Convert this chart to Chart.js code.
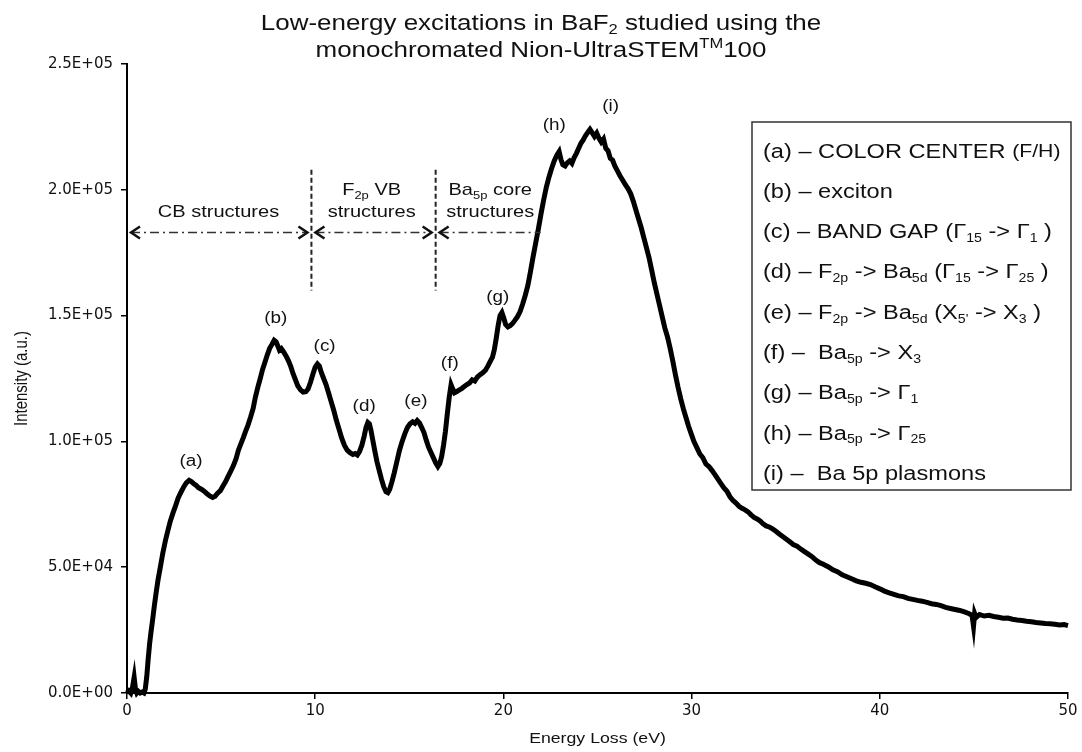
<!DOCTYPE html>
<html>
<head>
<meta charset="utf-8">
<title>BaF2 low-loss EELS</title>
<script src="https://cdn.jsdelivr.net/npm/chart.js"></script>
<style>
  html, body { margin: 0; padding: 0; background: #fff; }
  #spectrum { display: block; }
</style>
</head>
<body>
<canvas id="spectrum" width="1082" height="752"></canvas>
<script>
// measured spectrum: energy loss (eV) and intensity (a.u.)
const energy = [
  0.00, 0.10, 0.20, 0.30, 0.38, 0.45, 0.52, 0.60, 0.70, 0.80, 0.90, 0.97,
  1.05, 1.12, 1.20, 1.28, 1.36, 1.45, 1.55, 1.65, 1.77, 1.90, 2.04, 2.17,
  2.30, 2.44, 2.57, 2.72, 2.88, 3.02, 3.15, 3.30, 3.42, 3.55, 3.68, 3.80,
  3.95, 4.10, 4.25, 4.40, 4.55, 4.68, 4.80, 4.96, 5.10, 5.24, 5.38, 5.52,
  5.66, 5.80, 5.92, 6.05, 6.18, 6.30, 6.43, 6.56, 6.70, 6.82, 6.95, 7.08,
  7.20, 7.33, 7.46, 7.58, 7.70, 7.82, 7.92, 8.02, 8.10, 8.20, 8.32, 8.45,
  8.58, 8.70, 8.82, 8.95, 9.08, 9.22, 9.36, 9.50, 9.62, 9.75, 9.88, 10.00,
  10.12, 10.22, 10.32, 10.45, 10.58, 10.70, 10.84, 10.98, 11.12, 11.26, 11.40, 11.55,
  11.70, 11.85, 12.00, 12.12, 12.24, 12.36, 12.48, 12.60, 12.70, 12.80, 12.88, 12.96,
  13.06, 13.16, 13.28, 13.40, 13.52, 13.64, 13.76, 13.86, 13.96, 14.08, 14.20, 14.34,
  14.48, 14.62, 14.76, 14.90, 15.04, 15.18, 15.30, 15.42, 15.54, 15.66, 15.78, 15.90,
  16.02, 16.14, 16.28, 16.40, 16.52, 16.62, 16.72, 16.82, 16.92, 17.02, 17.12, 17.22,
  17.30, 17.40, 17.52, 17.64, 17.78, 17.92, 18.06, 18.20, 18.34, 18.48, 18.62, 18.76,
  18.90, 19.04, 19.18, 19.30, 19.42, 19.52, 19.62, 19.72, 19.82, 19.92, 20.02, 20.12,
  20.24, 20.36, 20.48, 20.60, 20.74, 20.88, 21.02, 21.16, 21.30, 21.44, 21.58, 21.72,
  21.86, 22.00, 22.14, 22.28, 22.42, 22.56, 22.70, 22.84, 22.96, 23.06, 23.16, 23.28,
  23.40, 23.52, 23.64, 23.76, 23.88, 24.00, 24.12, 24.24, 24.36, 24.48, 24.60, 24.72,
  24.84, 24.96, 25.08, 25.20, 25.32, 25.44, 25.56, 25.68, 25.80, 25.92, 26.06, 26.20,
  26.34, 26.48, 26.62, 26.76, 26.90, 27.04, 27.18, 27.32, 27.46, 27.60, 27.74, 27.88,
  28.02, 28.16, 28.30, 28.44, 28.58, 28.72, 28.86, 29.00, 29.14, 29.28, 29.42, 29.56,
  29.70, 29.84, 29.98, 30.12, 30.28, 30.44, 30.60, 30.76, 30.92, 31.08, 31.24, 31.40,
  31.56, 31.72, 31.88, 32.04, 32.20, 32.36, 32.52, 32.68, 32.84, 33.00, 33.16, 33.32,
  33.48, 33.64, 33.80, 33.96, 34.12, 34.30, 34.48, 34.66, 34.84, 35.02, 35.20, 35.40,
  35.60, 35.80, 36.00, 36.20, 36.40, 36.60, 36.80, 37.00, 37.25, 37.50, 37.75, 38.00,
  38.25, 38.50, 38.75, 39.00, 39.25, 39.50, 39.75, 40.00, 40.25, 40.50, 40.75, 41.00,
  41.25, 41.50, 41.75, 42.00, 42.25, 42.50, 42.75, 43.00, 43.25, 43.50, 43.75, 44.00,
  44.25, 44.50, 44.75, 44.90, 44.98, 45.04, 45.12, 45.30, 45.55, 45.80, 46.05, 46.30,
  46.55, 46.80, 47.05, 47.30, 47.55, 47.80, 48.05, 48.30, 48.55, 48.80, 49.05, 49.30,
  49.55, 49.80, 50.00
];
const intensity = [
  0, 800, 0, 2500, 6200, 1500, 0, 700, 0, 400, 0, 1500,
  6500, 13000, 19500, 24500, 29000, 34500, 40000, 45000, 50000, 55500, 60500, 64500,
  68300, 71500, 74200, 77500, 80000, 82000, 83500, 84500, 84000, 83200, 82500, 81600,
  81000, 80200, 79200, 78300, 77700, 78200, 79300, 80400, 82300, 84000, 86200, 88300,
  90500, 93200, 96500, 99000, 101500, 104000, 106500, 109500, 113000, 117500, 121500, 125000,
  128500, 131500, 134500, 137000, 138500, 140200, 139600, 137800, 136300, 136900, 135600, 134000,
  132000, 129800, 127000, 124500, 122000, 120500, 119600, 119800, 120800, 123500, 126800, 129500,
  130800, 130000, 127500, 125000, 122500, 119500, 116000, 112500, 108500, 105000, 101500, 98500,
  96500, 95500, 94800, 95200, 94600, 96000, 98500, 102000, 105500, 107500, 107000, 104500,
  100500, 96500, 92000, 88500, 85000, 82000, 80000, 79600, 81000, 84000, 87500, 92000,
  96500, 100000, 103000, 105500, 107000, 107800, 107200, 108300, 107300, 105500, 103500, 100500,
  97800, 95800, 93500, 91500, 90000, 91200, 94000, 98500, 104000, 111000, 117500, 122500,
  121000, 119300, 119800, 120400, 121000, 121800, 122600, 123200, 124500, 124000, 125600, 126500,
  127300, 128200, 130000, 131800, 133500, 136500, 141000, 146000, 150000, 151200, 149000, 146500,
  145500, 146000, 146800, 148000, 149500, 151500, 154500, 158000, 162000, 167500, 173500, 179000,
  184500, 190500, 196000, 201000, 205000, 208500, 211500, 213800, 215200, 212000, 210000, 209500,
  210800, 211500, 210500, 212800, 214500, 216500, 218500, 219800, 221500, 222800, 224000, 222600,
  221200, 222500, 220500, 219000, 220200, 216500, 215500, 212500, 211800, 209500, 207500, 205500,
  203800, 202000, 200500, 198500, 195500, 192000, 188500, 185000, 181000, 177000, 173000, 168000,
  163000, 158500, 154000, 149500, 145000, 141500, 137000, 132000, 126500, 121500, 117000, 113000,
  109500, 106000, 103000, 100000, 97500, 95000, 93500, 91000, 90000, 88500, 86800, 85000,
  83200, 81500, 80200, 78000, 76500, 75500, 74200, 73400, 72800, 72000, 70800, 69800,
  69200, 68400, 67200, 66400, 66000, 65200, 64300, 63200, 62200, 61200, 60200, 59000,
  58400, 57200, 56200, 55200, 54200, 52800, 51800, 51200, 50200, 49000, 48200, 47000,
  46200, 45400, 44600, 44000, 43600, 43100, 42200, 41400, 40500, 39800, 39200, 38600,
  38300, 37600, 37200, 36800, 36500, 36000, 35500, 35200, 34700, 34000, 33600, 33200,
  32800, 32200, 31500, 30900, 26500, 31600, 30000, 31200, 30600, 30900, 30400, 30100,
  29700, 29800, 29300, 29000, 28800, 28500, 28300, 28000, 27800, 27600, 27500, 27300,
  27000, 27200, 26800
];

// axis ticks
const xTicks = [0, 10, 20, 30, 40, 50];
const yTicks = [0, 50000, 100000, 150000, 200000, 250000];

// peak labels (a)-(i): position in energy / intensity
const peakNames = ['(a)', '(b)', '(c)', '(d)', '(e)', '(f)', '(g)', '(h)', '(i)'];
const peakE = [3.4, 7.9, 10.5, 12.6, 15.35, 17.15, 19.7, 22.7, 25.7];
const peakI = [92000, 149000, 137500, 114000, 116000, 131000, 157000, 225500, 233000];

// region boundaries and arrow level
const regionEdges = [0, 9.8, 16.4, 21.98];
const arrowLevel = 183000;
const dividerFrom = 160000, dividerTo = 208000;

const FONT = "'Liberation Sans', Arial, sans-serif";
const STRETCH = 1.18;

// text runs: [text, kind] where kind is '', 'sub', 'sup' or 'small'
const titleLines = [
  [['Low-energy excitations in BaF'], ['2', 'sub'], [' studied using the']],
  [['monochromated Nion-UltraSTEM'], ['TM', 'sup'], ['100']]
];
const regionText = [
  { e: 4.86, lines: [[['CB structures']]] },
  { e: 13.0, lines: [[['F'], ['2p', 'sub'], [' VB']], [['structures']]] },
  { e: 19.3, lines: [[['Ba'], ['5p', 'sub'], [' core']], [['structures']]] }
];
const legendLines = [
  [['(a) – COLOR CENTER '], ['(F/H)', 'small']],
  [['(b) – exciton']],
  [['(c) – BAND GAP (Γ'], ['15', 'sub'], [' -> Γ'], ['1', 'sub'], [' )']],
  [['(d) – F'], ['2p', 'sub'], [' -> Ba'], ['5d', 'sub'], [' (Γ'], ['15', 'sub'], [' -> Γ'], ['25', 'sub'], [' )']],
  [['(e) – F'], ['2p', 'sub'], [' -> Ba'], ['5d', 'sub'], [' (X'], ["5'", 'sub'], [' -> X'], ['3', 'sub'], [' )']],
  [['(f) –  Ba'], ['5p', 'sub'], [' -> X'], ['3', 'sub']],
  [['(g) – Ba'], ['5p', 'sub'], [' -> Γ'], ['1', 'sub']],
  [['(h) – Ba'], ['5p', 'sub'], [' -> Γ'], ['25', 'sub']],
  [['(i) –  Ba 5p plasmons']]
];

function runFont(kind, size) {
  if (kind === 'sub' || kind === 'sup') return Math.round(size * 0.62) + 'px ' + FONT;
  if (kind === 'small') return Math.round(size * 0.88) + 'px ' + FONT;
  return size + 'px ' + FONT;
}

// draws mixed text with sub/superscripts, slightly widened like the rest of the figure
function richText(ctx, runs, x, y, size, align) {
  let w = 0;
  runs.forEach(([t, k]) => { ctx.font = runFont(k, size); w += ctx.measureText(t).width; });
  ctx.save();
  ctx.translate(x, y);
  ctx.scale(STRETCH, 1);
  ctx.textAlign = 'left';
  ctx.textBaseline = 'middle';
  ctx.fillStyle = '#111';
  let cx = align === 'center' ? -w / 2 : 0;
  runs.forEach(([t, k]) => {
    ctx.font = runFont(k, size);
    let dy = 0;
    if (k === 'sub') dy = size * 0.3;
    if (k === 'sup') dy = -size * 0.32;
    ctx.fillText(t, cx, dy);
    cx += ctx.measureText(t).width;
  });
  ctx.restore();
}

function chevron(ctx, x, y, dir) {
  ctx.beginPath();
  ctx.moveTo(x - dir * 9, y - 6);
  ctx.lineTo(x, y);
  ctx.lineTo(x - dir * 9, y + 6);
  ctx.stroke();
}

const annotations = {
  id: 'annotations',
  afterDatasetsDraw(chart) {
    const { ctx, chartArea, scales: { x, y } } = chart;
    ctx.save();

    // title
    titleLines.forEach((line, i) => richText(ctx, line, 541, 24 + i * 27, 22, 'center'));

    // axis titles
    richText(ctx, [['Energy Loss (eV)']], (chartArea.left + chartArea.right) / 2, 739, 15, 'center');
    ctx.save();
    ctx.translate(22, (chartArea.top + chartArea.bottom) / 2);
    ctx.rotate(-Math.PI / 2);
    ctx.scale(1, STRETCH);
    ctx.font = '15px ' + FONT;
    ctx.fillStyle = '#111';
    ctx.textAlign = 'center';
    ctx.textBaseline = 'middle';
    ctx.fillText('Intensity (a.u.)', 0, 0);
    ctx.restore();

    // peak letters
    peakNames.forEach((n, i) => richText(ctx, [[n]], x.getPixelForValue(peakE[i]), y.getPixelForValue(peakI[i]), 16, 'center'));

    // dashed dividers between regions
    ctx.strokeStyle = '#222';
    ctx.lineWidth = 2;
    ctx.setLineDash([5, 3]);
    [regionEdges[1], regionEdges[2]].forEach(e => {
      const px = x.getPixelForValue(e);
      ctx.beginPath();
      ctx.moveTo(px, y.getPixelForValue(dividerTo));
      ctx.lineTo(px, y.getPixelForValue(dividerFrom));
      ctx.stroke();
    });

    // dash-dot arrows
    const ay = y.getPixelForValue(arrowLevel);
    const gap = 4;
    const segs = [
      [x.getPixelForValue(regionEdges[0]) + gap, x.getPixelForValue(regionEdges[1]) - gap, true],
      [x.getPixelForValue(regionEdges[1]) + gap, x.getPixelForValue(regionEdges[2]) - gap, true],
      [x.getPixelForValue(regionEdges[2]) + gap, x.getPixelForValue(regionEdges[3]), false]
    ];
    segs.forEach(([x0, x1, both]) => {
      ctx.lineWidth = 1.5;
      ctx.strokeStyle = '#333';
      ctx.setLineDash([9, 4, 2, 4]);
      ctx.beginPath();
      ctx.moveTo(x0, ay);
      ctx.lineTo(x1, ay);
      ctx.stroke();
      ctx.setLineDash([]);
      ctx.lineWidth = 2.5;
      ctx.strokeStyle = '#111';
      chevron(ctx, x0, ay, -1);
      if (both) chevron(ctx, x1, ay, 1);
    });

    // region names
    regionText.forEach(r => {
      const n = r.lines.length;
      r.lines.forEach((line, i) => {
        const py = ay - 20 - (n - 1 - i) * 22;
        richText(ctx, line, x.getPixelForValue(r.e), py, 17, 'center');
      });
    });

    // key box
    ctx.setLineDash([]);
    ctx.lineWidth = 1.5;
    ctx.strokeStyle = '#333';
    ctx.strokeRect(752, 122, 319, 368);
    legendLines.forEach((line, i) => richText(ctx, line, 763, 152 + i * 40.3, 20, 'left'));

    ctx.restore();
  }
};

function sci(v) {
  if (v === 0) return '0.0E+00';
  const e = Math.floor(Math.log10(v));
  const m = v / Math.pow(10, e);
  return m.toFixed(1) + 'E+' + String(e).padStart(2, '0');
}

const points = energy.map((e, i) => ({ x: e, y: intensity[i] }));

new Chart(document.getElementById('spectrum').getContext('2d'), {
  type: 'scatter',
  data: {
    datasets: [{
      data: points,
      showLine: true,
      borderColor: '#000',
      borderWidth: 5,
      pointRadius: 0,
      tension: 0,
      clip: false
    }]
  },
  options: {
    responsive: false,
    animation: false,
    devicePixelRatio: 1,
    layout: { padding: { top: 64, right: 14, bottom: 0, left: 0 } },
    plugins: {
      legend: { display: false },
      tooltip: { enabled: false },
      title: { display: false }
    },
    scales: {
      x: {
        type: 'linear',
        min: xTicks[0],
        max: xTicks[xTicks.length - 1],
        afterBuildTicks: s => { s.ticks = xTicks.map(v => ({ value: v })); },
        afterFit: s => { s.height = 59; },
        ticks: { color: '#111', font: { family: 'DejaVu Sans', size: 15 }, padding: 3 },
        grid: { drawOnChartArea: false, drawTicks: true, tickLength: 6, color: '#000', lineWidth: 1.5 },
        border: { display: true, color: '#000', width: 2 }
      },
      y: {
        min: yTicks[0],
        max: yTicks[yTicks.length - 1],
        afterBuildTicks: s => { s.ticks = yTicks.map(v => ({ value: v })); },
        afterFit: s => { s.width = 127; },
        ticks: { color: '#111', font: { family: 'DejaVu Sans', size: 15 }, padding: 8, callback: v => sci(v) },
        grid: { drawOnChartArea: false, drawTicks: true, tickLength: 6, color: '#000', lineWidth: 1.5 },
        border: { display: true, color: '#000', width: 2 }
      }
    }
  },
  plugins: [annotations]
});
</script>
</body>
</html>
